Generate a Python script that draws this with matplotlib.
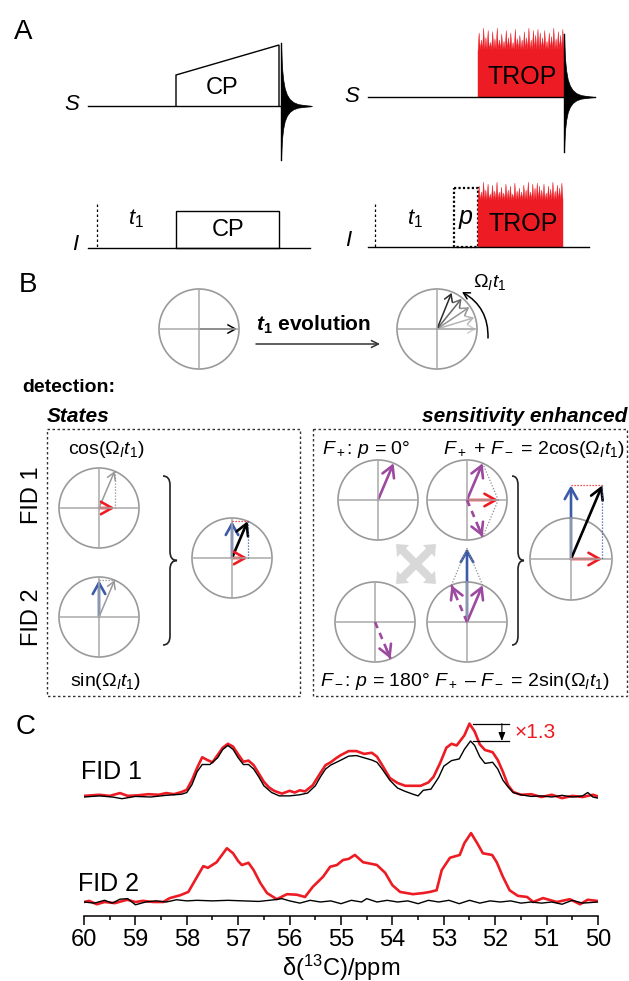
import numpy as np
import matplotlib.pyplot as plt
from matplotlib.patches import Circle, Rectangle, Polygon, FancyArrowPatch, PathPatch, FancyArrow
from matplotlib.path import Path

plt.rcParams['font.family'] = ['Liberation Sans', 'DejaVu Sans']
plt.rcParams['mathtext.fontset'] = 'custom'
plt.rcParams['mathtext.rm'] = 'Liberation Sans'
plt.rcParams['mathtext.it'] = 'Liberation Sans:italic'
plt.rcParams['mathtext.bf'] = 'Liberation Sans:bold'
plt.rcParams['mathtext.bfit'] = 'Liberation Sans:italic:bold'
plt.rcParams['mathtext.sf'] = 'Liberation Sans'

# ---- panel C spectra (black FID 1 maximum = 1) ----
ppm_fid1_red = [60.0, 59.85, 59.7, 59.5, 59.3, 59.15, 58.95, 58.75, 58.55, 58.4, 58.25, 58.1,
                58.0, 57.9, 57.8, 57.7, 57.6, 57.5, 57.4, 57.3, 57.2, 57.1, 57.0, 56.9,
                56.8, 56.7, 56.6, 56.5, 56.4, 56.3, 56.15, 56.0, 55.9, 55.8, 55.7, 55.55,
                55.4, 55.3, 55.2, 55.1, 55.0, 54.85, 54.7, 54.55, 54.4, 54.3, 54.2, 54.05,
                53.9, 53.75, 53.6, 53.45, 53.3, 53.2, 53.07, 52.95, 52.85, 52.75, 52.6, 52.5,
                52.4, 52.3, 52.2, 52.05, 51.95, 51.85, 51.75, 51.65, 51.5, 51.3, 51.1, 50.9,
                50.7, 50.5, 50.3, 50.1, 50.0]
int_fid1_red = [0.02, 0.03, 0.04, 0.02, 0.07, 0.02, 0.03, 0.05, 0.04, 0.07, 0.05, 0.09,
                0.13, 0.30, 0.52, 0.71, 0.66, 0.62, 0.75, 0.88, 0.95, 0.90, 0.76, 0.63,
                0.65, 0.57, 0.42, 0.27, 0.17, 0.11, 0.06, 0.11, 0.08, 0.12, 0.10, 0.21,
                0.43, 0.57, 0.62, 0.69, 0.75, 0.82, 0.82, 0.77, 0.79, 0.72, 0.57, 0.34,
                0.25, 0.20, 0.20, 0.20, 0.26, 0.36, 0.61, 0.88, 0.95, 0.92, 1.10, 1.31,
                1.17, 0.94, 0.84, 0.80, 0.66, 0.45, 0.21, 0.09, 0.04, 0.05, 0.00, 0.04,
                -0.02, 0.02, 0.00, 0.04, 0.01]

ppm_fid1_black = [60.0, 59.7, 59.45, 59.26, 59.0, 58.7, 58.4, 58.1, 58.0, 57.9, 57.8, 57.7,
                  57.55, 57.4, 57.3, 57.2, 57.1, 57.0, 56.9, 56.8, 56.7, 56.6, 56.5, 56.35,
                  56.2, 56.0, 55.8, 55.65, 55.5, 55.4, 55.3, 55.2, 55.0, 54.85, 54.7, 54.55,
                  54.4, 54.3, 54.2, 54.05, 53.9, 53.75, 53.6, 53.5, 53.4, 53.25, 53.1, 53.0,
                  52.85, 52.7, 52.6, 52.48, 52.4, 52.3, 52.2, 52.05, 51.95, 51.85, 51.75, 51.65,
                  51.5, 51.3, 51.1, 50.9, 50.7, 50.5, 50.3, 50.2, 50.1, 50.0]
int_fid1_black = [0.00, 0.02, 0.00, -0.03, 0.01, 0.00, 0.03, 0.05, 0.08, 0.22, 0.45, 0.58,
                  0.58, 0.70, 0.85, 0.92, 0.85, 0.70, 0.58, 0.58, 0.50, 0.36, 0.20, 0.08,
                  0.02, 0.02, 0.04, 0.07, 0.20, 0.36, 0.50, 0.57, 0.66, 0.73, 0.74, 0.70,
                  0.66, 0.62, 0.50, 0.30, 0.16, 0.10, 0.05, 0.02, 0.12, 0.14, 0.35, 0.55,
                  0.65, 0.68, 0.85, 1.00, 0.92, 0.72, 0.60, 0.62, 0.50, 0.30, 0.18, 0.08,
                  0.04, 0.01, 0.02, 0.00, 0.03, 0.00, 0.02, 0.08, 0.00, -0.02]

ppm_fid2_red = [60.0, 59.9, 59.75, 59.6, 59.4, 59.16, 59.0, 58.85, 58.65, 58.46, 58.33, 58.13,
                57.97, 57.8, 57.68, 57.59, 57.42, 57.3, 57.22, 57.1, 57.0, 56.93, 56.8, 56.7,
                56.57, 56.44, 56.25, 56.05, 55.86, 55.7, 55.55, 55.35, 55.21, 55.08, 54.96, 54.85,
                54.73, 54.57, 54.4, 54.3, 54.14, 54.0, 53.85, 53.6, 53.4, 53.27, 53.14, 53.04,
                52.88, 52.69, 52.6, 52.47, 52.35, 52.24, 52.06, 51.97, 51.85, 51.72, 51.56, 51.38,
                51.26, 51.07, 50.8, 50.55, 50.35, 50.2, 50.02]
int_fid2_red = [0.00, 0.02, -0.04, 0.00, -0.02, 0.04, 0.00, 0.02, 0.00, 0.00, 0.07, 0.12,
                0.18, 0.45, 0.64, 0.61, 0.71, 0.86, 0.96, 0.87, 0.73, 0.66, 0.70, 0.57,
                0.34, 0.16, 0.05, 0.14, 0.13, 0.09, 0.27, 0.45, 0.63, 0.66, 0.75, 0.77,
                0.84, 0.71, 0.68, 0.66, 0.52, 0.30, 0.18, 0.14, 0.16, 0.18, 0.21, 0.57,
                0.79, 0.84, 1.05, 1.23, 1.05, 0.87, 0.84, 0.71, 0.45, 0.21, 0.11, 0.09,
                0.00, 0.07, 0.00, 0.05, -0.04, 0.04, 0.02]

ppm_fid2_black = [60.0, 59.8, 59.6, 59.45, 59.3, 59.15, 59.0, 58.8, 58.6, 58.4, 58.2, 58.0,
                  57.8, 57.5, 57.2, 56.9, 56.6, 56.3, 56.15, 56.0, 55.8, 55.6, 55.4, 55.2,
                  55.0, 54.8, 54.6, 54.5, 54.3, 54.1, 53.9, 53.7, 53.5, 53.3, 53.1, 52.9,
                  52.7, 52.5, 52.3, 52.1, 51.9, 51.7, 51.5, 51.3, 51.1, 50.9, 50.7, 50.5,
                  50.3, 50.0]
int_fid2_black = [0.00, -0.02, 0.03, -0.02, 0.05, 0.06, -0.05, 0.00, 0.02, 0.00, 0.04, 0.02,
                  0.03, 0.02, 0.03, 0.02, 0.01, 0.04, 0.06, 0.02, -0.02, 0.03, 0.00, 0.02,
                  -0.03, 0.03, 0.00, 0.06, 0.00, 0.03, 0.00, 0.02, -0.03, 0.03, 0.00, 0.03,
                  -0.03, 0.03, -0.02, 0.02, 0.00, 0.02, -0.02, 0.00, -0.02, 0.00, -0.04, 0.03,
                  -0.02, 0.00]

fid1_offset = 1.875
ppm_ticks = [60, 59, 58, 57, 56, 55, 54, 53, 52, 51, 50]

# ---- panel A decoration: FID envelope and TROP spike heights (relative) ----
fid_t = [0.0, 0.03, 0.07, 0.12, 0.19, 0.28, 0.4, 0.55, 0.75, 1.0]
fid_env = [1.0, 0.62, 0.42, 0.28, 0.18, 0.11, 0.06, 0.03, 0.015, 0.0]
trop_spikes = [0.8, 0.5, 1.0, 0.6, 0.9, 0.4, 0.85, 0.55, 1.0, 0.5, 0.75, 0.45, 0.9, 0.6,
               0.8, 0.4, 0.95, 0.55, 0.7, 0.5, 0.85, 0.6, 1.0, 0.5, 0.9, 0.7, 0.95, 0.8,
               0.6, 0.9, 0.45, 0.8, 0.65, 1.0, 0.55, 0.85, 0.7, 0.95]

# ---- panel B: vector angle and sizes ----
theta = np.deg2rad(67)
vlen = 40
top_angles = [0, 17, 34, 51, 68]
top_grays = ['#d0d0d0', '#b5b5b5', '#959595', '#666666', '#2a2a2a']
swap_dirs = [(1, 1), (1, -1), (-1, 1), (-1, -1)]

RED = '#ed1c24'
BLUE = '#3d5aa9'
PURPLE = '#9c4a9f'
CGRAY = '#9a9a9a'
LGRAY = '#a9a9a9'

fig = plt.figure(figsize=(6.29, 9.81), dpi=100)
ax = fig.add_axes([0, 0, 1, 1])
ax.set_xlim(0, 629)
ax.set_ylim(981, 0)
ax.axis('off')


def fid(x0, y0, up, down, length):
    xs = x0 + length * np.array(fid_t)
    env = np.array(fid_env)
    ax.fill_between(xs, y0 - up * env, y0 + down * env, color='k', lw=0.5)
    ax.plot([x0, x0], [y0 - up, y0 + down], color='k', lw=1)


def trop(x0, x1, y_base, y_solid, h):
    n = len(trop_spikes)
    w = (x1 - x0) / n
    pts = [(x0, y_base), (x0, y_solid)]
    for i, s in enumerate(trop_spikes):
        pts.append((x0 + (i + 0.5) * w, y_solid - s * h))
        pts.append((x0 + (i + 1) * w, y_solid - 0.1 * h))
    pts.append((x1, y_base))
    ax.add_patch(Polygon(pts, closed=True, fc=RED, ec=RED, lw=0.3))


def disc(x, y, r=40):
    ax.add_patch(Circle((x, y), r, fill=False, ec=CGRAY, lw=1.2))
    ax.plot([x - r, x + r], [y, y], color=LGRAY, lw=1.1)
    ax.plot([x, x], [y - r, y + r], color=LGRAY, lw=1.1)


def vec(x0, y0, dx, dy, color, lw=1.9, dashed=False, hl=0.8, hw=0.45):
    x1, y1 = x0 + dx, y0 - dy
    style = '->,head_length=%s,head_width=%s' % (hl, hw)
    if dashed:
        ax.plot([x0, x1], [y0, y1], color=color, lw=lw, ls=(0, (2.5, 2)))
        ax.add_patch(FancyArrowPatch((x0 + 0.75 * dx, y0 - 0.75 * dy), (x1, y1), arrowstyle=style,
                                     mutation_scale=10, color=color, lw=lw, shrinkA=0, shrinkB=0))
    else:
        ax.add_patch(FancyArrowPatch((x0, y0), (x1, y1), arrowstyle=style, mutation_scale=10,
                                     color=color, lw=lw, shrinkA=0, shrinkB=0))
    return x1, y1


def dotted(xs, ys, color='#8c8c8c'):
    ax.plot(xs, ys, color=color, lw=0.9, ls=(0, (1, 1.4)))


def brace(x, y0, y1, w=14):
    ym = (y0 + y1) / 2
    xm = x + w * 0.5
    verts = [(x, y0), (xm, y0), (xm, y0 + 9), (xm, ym - 9), (xm, ym), (x + w, ym),
             (xm, ym), (xm, ym + 9), (xm, y1 - 9), (xm, y1), (x, y1)]
    codes = [Path.MOVETO, Path.CURVE3, Path.CURVE3, Path.LINETO, Path.CURVE3, Path.CURVE3,
             Path.CURVE3, Path.CURVE3, Path.LINETO, Path.CURVE3, Path.CURVE3]
    ax.add_patch(PathPatch(Path(verts, codes), fill=False, ec='#222222', lw=1.2))


# ================= panel A =================
ax.text(23, 32, 'A', fontsize=20, ha='center', va='center')
# left: CP
ax.text(72, 104, 'S', fontsize=16, style='italic', ha='center', va='center')
ax.plot([88, 310], [106, 106], color='k', lw=1)
ax.add_patch(Polygon([(176, 106), (176, 75), (279, 45), (279, 106)], closed=False, fill=False,
                     ec='k', lw=1))
ax.text(222, 88, 'CP', fontsize=17, ha='center', va='center')
fid(281, 106, 63, 54, 31)

ax.text(75, 245, 'I', fontsize=16, style='italic', ha='center', va='center')
ax.plot([88, 310], [248, 248], color='k', lw=1)
ax.plot([97, 97], [204, 248], color='k', lw=0.9, ls=(0, (2, 2)))
ax.text(136, 219, r'$t_1$', fontsize=16, ha='center', va='center')
ax.add_patch(Rectangle((176, 211), 103, 37, fill=False, ec='k', lw=1))
ax.text(228, 230, 'CP', fontsize=17, ha='center', va='center')

# right: TROP
ax.text(352, 96, 'S', fontsize=16, style='italic', ha='center', va='center')
ax.plot([368, 595], [97, 97], color='k', lw=1)
trop(478, 564, 97, 52, 24)
ax.text(522, 77, 'TROP', fontsize=18, ha='center', va='center')
fid(564, 97, 63, 55, 31)

ax.text(348, 241, 'I', fontsize=16, style='italic', ha='center', va='center')
ax.plot([368, 589], [247, 247], color='k', lw=1)
ax.plot([375, 375], [204, 247], color='k', lw=0.9, ls=(0, (2, 2)))
ax.text(415, 219, r'$t_1$', fontsize=16, ha='center', va='center')
ax.add_patch(Rectangle((454, 188), 24, 59, fill=False, ec='k', lw=1.6, ls=(0, (1, 1))))
ax.text(466, 219, r'$p$', fontsize=18, ha='center', va='center')
trop(478, 563, 247, 202, 20)
ax.text(523, 224, 'TROP', fontsize=18, ha='center', va='center')

# ================= panel B =================
ax.text(28, 285, 'B', fontsize=20, ha='center', va='center')
disc(199, 329)
vec(199, 329, 38, 0, 'k', lw=1.1, hl=0.55, hw=0.3)
ax.add_patch(FancyArrowPatch((256, 344), (380, 344), arrowstyle='->,head_length=0.5,head_width=0.25',
                             mutation_scale=10, color='#333333', lw=1.1, shrinkA=0, shrinkB=0))
ax.text(256, 325, r'$\mathbfit{t}_\mathbf{1}$ evolution', fontsize=15, fontweight='bold',
        ha='left', va='center')
disc(437, 329)
for ang, gcol in zip(top_angles, top_grays):
    a = np.deg2rad(ang)
    vec(437, 329, 39 * np.cos(a), 39 * np.sin(a), gcol, lw=1.1, hl=0.5, hw=0.3)
ax.add_patch(FancyArrowPatch((488, 338), (462, 292), connectionstyle='arc3,rad=0.3',
                             arrowstyle='->,head_length=0.45,head_width=0.25', mutation_scale=10,
                             color='k', lw=1.1, shrinkA=0, shrinkB=0))
ax.text(490, 282, r'$\Omega_I t_1$', fontsize=14, ha='center', va='center')

ax.text(22, 388, 'detection:', fontsize=14, fontweight='bold', ha='left', va='center')
ax.text(47, 416, 'States', fontsize=15, fontweight='bold', style='italic', ha='left', va='center')
ax.text(627, 416, 'sensitivity enhanced', fontsize=15, fontweight='bold', style='italic',
        ha='right', va='center')
ax.add_patch(Rectangle((47, 429), 253, 267, fill=False, ec='#333333', lw=1, ls=(0, (1.8, 1.8))))
ax.add_patch(Rectangle((313, 429), 314, 267, fill=False, ec='#333333', lw=1, ls=(0, (1.8, 1.8))))

cx, sy = vlen * np.cos(theta), vlen * np.sin(theta)

# States
ax.text(106, 449, r'cos($\Omega_I t_1$)', fontsize=14, ha='center', va='center')
ax.text(32, 495, 'FID 1', fontsize=17, rotation=90, ha='center', va='center')
ax.text(32, 617, 'FID 2', fontsize=17, rotation=90, ha='center', va='center')
ax.text(106, 681, r'sin($\Omega_I t_1$)', fontsize=14, ha='center', va='center')

disc(99, 508)
tx, ty = vec(99, 508, cx, sy, '#999999', lw=1.1, hl=0.5, hw=0.3)
dotted([tx, tx], [ty, 508])
vec(99, 508, cx, 0, RED)

disc(99, 617)
bx, by = vec(99, 617, 0, sy, BLUE)
tx, ty = vec(99, 617, cx, sy, '#999999', lw=1.1, hl=0.5, hw=0.3)
dotted([bx, tx], [by, ty])

brace(163, 476, 645)
disc(232, 558)
bx, by = vec(232, 558, 0, sy, BLUE)
kx, ky = vec(232, 558, cx, sy, 'k')
vec(232, 558, cx, 0, RED)
dotted([bx, kx], [by, ky], color=RED)
dotted([kx, kx], [ky, 558], color=BLUE)

# sensitivity enhanced
ax.text(322, 449, r'$F_+$: $p$ = 0°', fontsize=14, ha='left', va='center')
ax.text(625, 449, r'$F_+$ + $F_-$ = 2cos($\Omega_I t_1$)', fontsize=14, ha='right', va='center')
ax.text(320, 681, r'$F_-$: $p$ = 180°', fontsize=14, ha='left', va='center')
ax.text(610, 681, r'$F_+$ – $F_-$ = 2sin($\Omega_I t_1$)', fontsize=14, ha='right', va='center')

disc(378, 500)
vec(378, 500, cx, sy, PURPLE)

disc(467, 500)
p1 = vec(467, 500, cx, sy, PURPLE)
p2 = vec(467, 500, cx, -sy, PURPLE, dashed=True)
rt = vec(467, 500, 2 * cx, 0, RED)
dotted([p1[0], rt[0]], [p1[1], rt[1]])
dotted([p2[0], rt[0]], [p2[1], rt[1]])

# swap symbol: four thick gray arrows pointing out of a common centre
for sx_, sy_ in swap_dirs:
    ax.add_patch(FancyArrow(416, 564, 20 * sx_, 20 * sy_, width=8, head_width=17, head_length=10,
                            length_includes_head=True, color='#d8d8d8', lw=0))

disc(375, 622)
vec(375, 622, cx, -sy, PURPLE, dashed=True)

disc(467, 622)
bt = vec(467, 622, 0, 2 * sy, BLUE)
q1 = vec(467, 622, cx, sy, PURPLE)
q2 = vec(467, 622, -cx, sy, PURPLE, dashed=True)
dotted([q1[0], bt[0]], [q1[1], bt[1]])
dotted([q2[0], bt[0]], [q2[1], bt[1]])

brace(512, 476, 645, w=12)
disc(571, 559, 41)
bt = vec(571, 559, 0, 2 * sy, BLUE)
kt = vec(571, 559, 2 * cx, 2 * sy, 'k')
vec(571, 559, 2 * cx, 0, RED)
dotted([bt[0], kt[0]], [bt[1], kt[1]], color=RED)
dotted([kt[0], kt[0]], [kt[1], 559], color=BLUE)

# ================= panel C =================
ax.text(26, 727, 'C', fontsize=20, ha='center', va='center')

axc = fig.add_axes([84 / 629, 65 / 981, 514 / 629, 216 / 981])
axc.patch.set_alpha(0)
axc.plot(ppm_fid1_red, np.array(int_fid1_red) + fid1_offset, color=RED, lw=1.9)
axc.plot(ppm_fid1_black, np.array(int_fid1_black) + fid1_offset, color='k', lw=1.0)
axc.plot(ppm_fid2_red, int_fid2_red, color=RED, lw=1.9)
axc.plot(ppm_fid2_black, int_fid2_black, color='k', lw=1.0)
axc.set_xlim(60, 50)
axc.set_ylim(-0.25, -0.25 + 216 / 56)
for side in ['left', 'right', 'top']:
    axc.spines[side].set_visible(False)
axc.spines['bottom'].set_linewidth(1.1)
axc.set_yticks([])
axc.set_xticks(ppm_ticks)
axc.set_xticks(np.arange(50.5, 60, 1.0), minor=True)
axc.tick_params(axis='x', which='major', length=6.5, width=1.1, labelsize=17, pad=3)
axc.tick_params(axis='x', which='minor', length=3, width=1.1)
axc.set_xlabel(r'δ($^{13}$C)/ppm', fontsize=17, labelpad=1)

axc.text(60.05, 2.32, 'FID 1', fontsize=18, ha='left', va='center')
axc.text(60.12, 0.32, 'FID 2', fontsize=18, ha='left', va='center')

top_red = max(int_fid1_red) + fid1_offset
top_black = max(int_fid1_black) + fid1_offset
axc.plot([52.43, 51.73], [top_red, top_red], color='k', lw=0.9)
axc.plot([52.43, 51.73], [top_black, top_black], color='k', lw=0.9)
axc.annotate('', xy=(51.87, top_black), xytext=(51.87, top_red),
             arrowprops=dict(arrowstyle='-|>,head_length=0.5,head_width=0.2', color='k', lw=0.8,
                             shrinkA=0, shrinkB=0))
axc.text(51.62, (top_red + top_black) / 2, '×1.3', fontsize=15, color=RED, ha='left', va='center')

fig.savefig('out.png', dpi=100)
